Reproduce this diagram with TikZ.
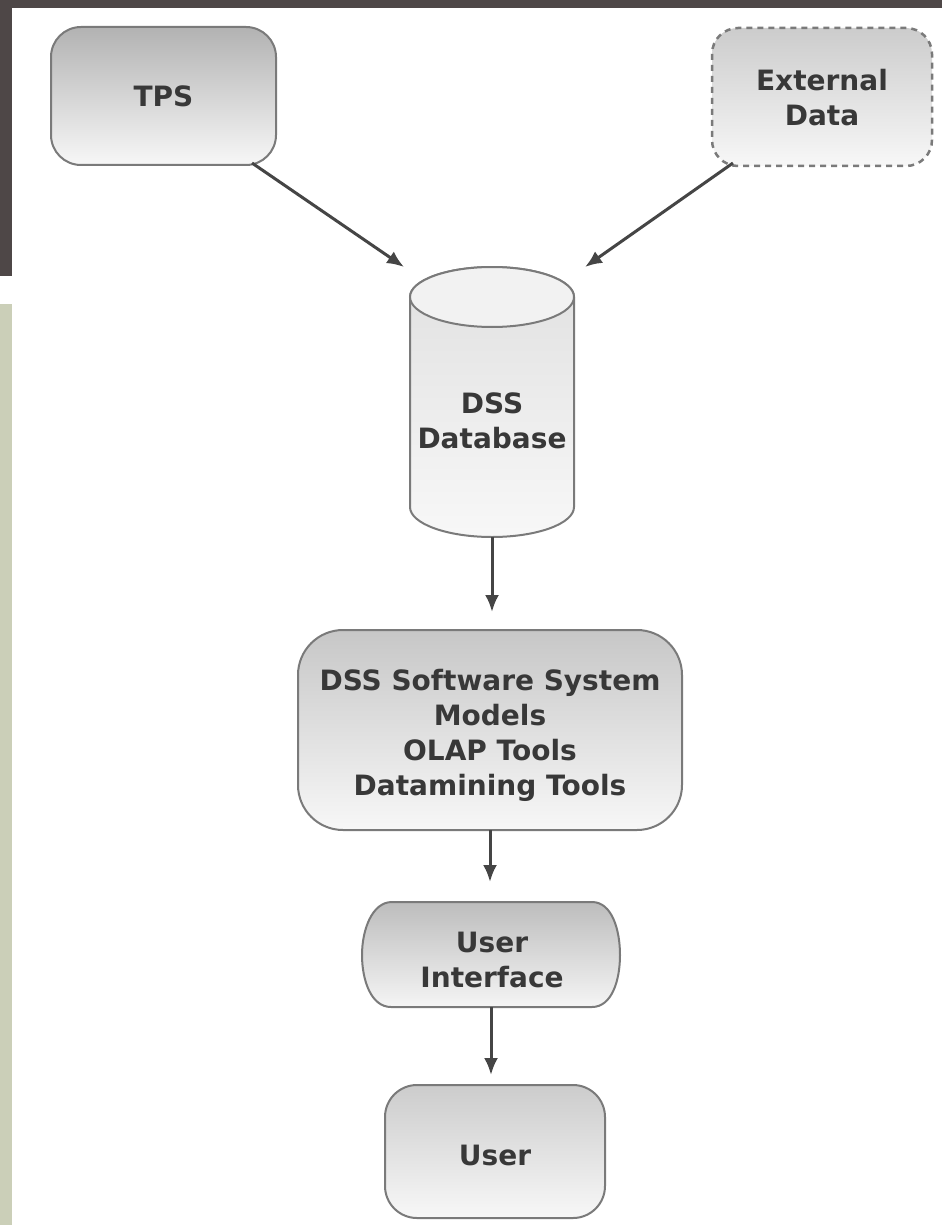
\documentclass[tikz,border=0pt]{standalone}
\usepackage{fontspec}
\setmainfont{DejaVu Sans}
\usetikzlibrary{arrows.meta,calc}
\definecolor{bandDark}{HTML}{4E4747}
\definecolor{bandGreen}{HTML}{CBCFB8}
\definecolor{edgeGray}{HTML}{7A7A7A}
\definecolor{arrowGray}{HTML}{454545}
\definecolor{txtGray}{HTML}{383838}
\tikzset{
  lbl/.style={font=\fontsize{28}{35}\selectfont\bfseries, text=txtGray, align=center},
  boxshade/.style={top color=black!30, bottom color=black!3, draw=edgeGray, line width=2pt},
  ghost/.style={draw=none, fill=none, inner sep=0pt, outer sep=0pt, rectangle},
  arr/.style={draw=arrowGray, line width=3pt, -{Latex[length=17pt,width=14pt]}},
}
\begin{document}
\begin{tikzpicture}[x=1pt,y=-1pt]
\useasboundingbox (0,0) rectangle (942,1225);
\fill[white] (0,0) rectangle (942,1225);
% background bands
\fill[bandDark] (0,0) rectangle (942,8);
\fill[bandDark] (0,0) rectangle (12,276);
\fill[bandGreen] (0,304) rectangle (12,1225);

% TPS
\node[ghost, minimum width=225pt, minimum height=138pt] (tps) at (163.5,96) {};
\draw[boxshade, rounded corners=30pt] (tps.north west) rectangle (tps.south east);
\node[lbl] at (tps.center) {TPS};

% External Data
\node[ghost, minimum width=220pt, minimum height=138pt] (ext) at (822,97) {};
\draw[boxshade, top color=black!20, rounded corners=26pt, dash pattern=on 6pt off 5pt, line width=2.5pt] (ext.north west) rectangle (ext.south east);
\node[lbl] at (822,98) {External\\Data};

% DSS Database cylinder
\node[ghost, minimum width=164pt, minimum height=270pt] (db) at (492,402) {};
\draw[edgeGray, line width=2pt, top color=black!12, bottom color=black!3]
  (410,297) -- (410,507) arc (180:0:82 and 30) -- (574,297) arc (360:180:82 and 30) -- cycle;
\draw[edgeGray, line width=2pt, fill=black!5] (492,297) ellipse (82 and 30);
\node[lbl] at (492,421) {DSS\\Database};

% DSS Software System
\node[ghost, minimum width=384pt, minimum height=200pt] (sw) at (490,730) {};
\draw[boxshade, top color=black!22, rounded corners=45pt] (sw.north west) rectangle (sw.south east);
\node[lbl] at (490,735) {DSS Software System\\Models\\OLAP Tools\\Datamining Tools};

% User Interface
\node[ghost, minimum width=258pt, minimum height=105pt] (ui) at (491,954.5) {};
\draw[edgeGray, line width=2pt, top color=black!26, bottom color=black!4]
  (392,902) -- (592,902) .. controls (612,902) and (620,930) .. (620,955)
  .. controls (620,980) and (612,1007) .. (592,1007) -- (391,1007)
  .. controls (371,1007) and (362,980) .. (362,955)
  .. controls (362,930) and (372,902) .. (392,902) -- cycle;
\node[lbl] at (492,960) {User\\Interface};

% User
\node[ghost, minimum width=220pt, minimum height=133pt] (user) at (495,1151.5) {};
\draw[boxshade, top color=black!20, rounded corners=32pt] (user.north west) rectangle (user.south east);
\node[lbl] at (495,1155) {User};

% connectors
\draw[arr] ($(tps.south east)+(-24,-2)$) -- ($(db.north west)+(-6,0)$);
\draw[arr] ($(ext.south west)+(21,-3)$) -- ($(db.north east)+(11,0)$);
\draw[arr, shorten >=18pt] (db.south) -- (db.south |- sw.north);
\draw[arr, shorten >=20pt] (sw.south) -- (sw.south |- ui.north);
\draw[arr, shorten >=10pt] (ui.south) -- (ui.south |- user.north);
\end{tikzpicture}
\end{document}
